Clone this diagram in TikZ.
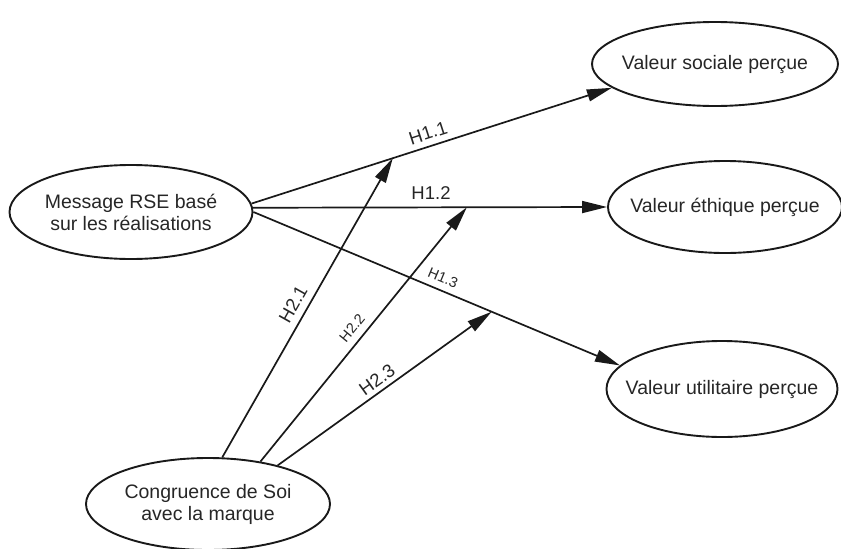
\documentclass[tikz,border=0pt]{standalone}
\usepackage{fontspec}
\setmainfont{Liberation Sans}
\usetikzlibrary{shapes.geometric,arrows.meta}
\begin{document}
\begin{tikzpicture}[x=1pt,y=-1pt,
  construct/.style={ellipse, draw=black!90, line width=1.9pt, inner sep=0pt},
  ctext/.style={align=center, inner sep=0pt, text=black!85,
    font=\fontsize{19.5}{22}\selectfont},
  link/.style={line width=1.7pt, draw=black!90,
    -{Triangle[length=25pt,width=12pt]}},
  lab/.style={inner sep=0pt, text=black!85, font=\fontsize{18.5}{20}\selectfont},
  smalllab/.style={inner sep=0pt, text=black!85, font=\fontsize{14.5}{16}\selectfont}]
\useasboundingbox (0,0) rectangle (841,549);

% constructs
\node[construct, minimum width=243pt, minimum height=94pt] (msg) at (131,212) {};
\node[ctext] (msgt) at (msg) {Message RSE basé\\sur les réalisations};
\node[construct, minimum width=246pt, minimum height=84pt] (soc) at (715,64) {};
\node[ctext] (soct) at (soc) {Valeur sociale perçue};
\node[construct, minimum width=234pt, minimum height=92pt] (eth) at (725,207) {};
\node[ctext] (etht) at (eth) {Valeur éthique perçue};
\node[construct, minimum width=231pt, minimum height=96pt] (uti) at (722,389) {};
\node[ctext] (utit) at (uti) {Valeur utilitaire perçue};
\node[construct, minimum width=244pt, minimum height=92pt] (con) at (208,504) {};
\node[ctext] (cont) at (con) {Congruence de Soi\\avec la marque};

% direct effects
\draw[link] (msg.4) -- (soc.193.6) coordinate[pos=0.392] (j1);
\draw[link] (msg.2) -- (eth.180) coordinate[pos=0.604] (j2);
\draw[link] (msg.-0.5) -- (uti.167.3) coordinate[pos=0.650] (j3);

% moderating effects
\draw[link] (con.73) -- (j1);
\draw[link] (con.39) -- (j2);
\draw[link] (con.29) -- (j3);

% hypothesis labels
\node[lab, rotate=17.9] (l11) at (428,133) {H1.1};
\node[lab] (l12) at (431,193) {H1.2};
\node[smalllab, rotate=-22.6] (l13) at (443,278) {H1.3};
\node[lab, rotate=60.5] (l21) at (293,304) {H2.1};
\node[smalllab, rotate=50.8] (l22) at (352,328) {H2.2};
\node[lab, rotate=35.6] (l23) at (377,380) {H2.3};
\end{tikzpicture}
\end{document}
